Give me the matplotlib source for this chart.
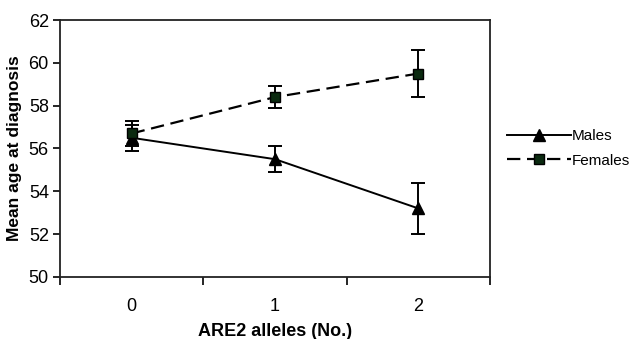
import matplotlib.pyplot as plt
import numpy as np

plt.rcParams['font.family'] = ['Liberation Sans', 'DejaVu Sans']

alleles = [0, 1, 2]
tick_labels = ["0", "1", "2"]
males = [56.5, 55.5, 53.2]
males_err = [0.6, 0.6, 1.2]
females = [56.7, 58.4, 59.5]
females_err = [0.6, 0.5, 1.1]


def Main():
    fig = plt.figure(figsize=(6.34, 3.39), dpi=100)
    ax = fig.add_axes([0.0946, 0.183, 0.6784, 0.758])

    ax.errorbar(alleles, males, yerr=males_err, color="black", lw=1.4,
                marker="^", ms=8, mfc="black", mec="black",
                ecolor="black", elinewidth=1.4, capsize=5, capthick=1.4,
                label="Males")
    ax.errorbar(alleles, females, yerr=females_err, color="black", lw=1.6,
                ls=(0, (6, 3)), marker="s", ms=7.5, mfc="#0b2a10", mec="black",
                ecolor="black", elinewidth=1.4, capsize=5, capthick=1.4,
                label="Females")

    ax.set_xlim(-0.5, 2.5)
    ax.set_ylim(50, 62)
    ax.set_yticks(np.arange(50, 63, 2))
    ax.tick_params(axis="y", direction="out", length=5, width=1.2,
                   labelsize=13, pad=3)

    # 目盛りは区切り位置、ラベルは中央
    ax.set_xticks([-0.5, 0.5, 1.5, 2.5])
    ax.set_xticklabels([])
    ax.tick_params(axis="x", which="major", direction="out", length=6, width=1.2)
    ax.set_xticks(alleles, minor=True)
    ax.set_xticklabels(tick_labels, minor=True)
    ax.tick_params(axis="x", which="minor", length=0, labelsize=13, pad=15)

    for s in ax.spines.values():
        s.set_linewidth(1.3)
        s.set_color("#222222")

    ax.set_xlabel("ARE2 alleles (No.)", fontsize=13, fontweight="bold", labelpad=6)
    ax.set_ylabel("Mean age at diagnosis", fontsize=12.5, fontweight="bold", labelpad=5)

    handles, labels = ax.get_legend_handles_labels()
    handles = [h[0] for h in handles]
    ax.legend(handles, labels, loc="center left", bbox_to_anchor=(1.04, 0.5),
              frameon=False, fontsize=11, handlelength=4.2, handletextpad=0.05,
              labelspacing=0.7, borderaxespad=0, borderpad=0)

    fig.savefig("out.png", dpi=100)


if __name__ == "__main__":
    Main()
